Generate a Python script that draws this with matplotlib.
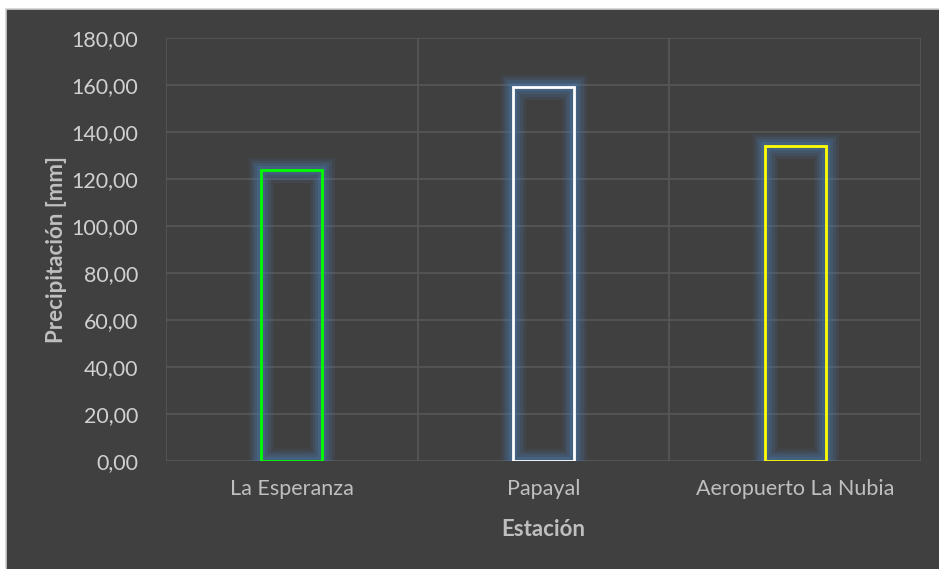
import matplotlib
matplotlib.use("Agg")
import matplotlib.pyplot as plt
from matplotlib.patches import Rectangle
from matplotlib.ticker import FuncFormatter

# Data
estaciones = ["La Esperanza", "Papayal", "Aeropuerto La Nubia"]
precipitacion = [123.8, 159.2, 134.0]
colores = ["#00ff00", "#ffffff", "#ffff00"]

plt.rcParams['font.family'] = ['Lato', 'DejaVu Sans']

fig = plt.figure(figsize=(9.39, 5.69), dpi=100, facecolor="white")
# dark chart area with thin light border
fondo = Rectangle((6 / 939, -0.01), 1.0, 1 - 9 / 569 + 0.01,
                  transform=fig.transFigure, facecolor="#404040",
                  edgecolor="#d0d0d0", linewidth=1.2, zorder=-10)
fig.add_artist(fondo)

ax = fig.add_axes([166 / 939, 1 - 461 / 569, (921 - 166) / 939, (461 - 38) / 569])
ax.set_facecolor("#404040")

x = range(len(estaciones))
ancho = 0.243

# glow
for lw, a in [(18, 0.10), (14, 0.14), (10, 0.18), (6, 0.25)]:
    ax.bar(x, precipitacion, width=ancho, fill=False, edgecolor="#4a80bd",
           linewidth=lw, alpha=a, zorder=2)
ax.bar(x, precipitacion, width=ancho, fill=False, edgecolor=colores,
       linewidth=2, zorder=3)

ax.set_xlim(-0.5, 2.5)
ax.set_ylim(0, 180)
ax.set_yticks(range(0, 181, 20))
ax.yaxis.set_major_formatter(FuncFormatter(lambda v, p: f"{v:.2f}".replace(".", ",")))
ax.set_xticks(list(x))
ax.set_xticklabels(estaciones)

for v in range(0, 181, 20):
    ax.axhline(v, color="#575757", linewidth=1.2, zorder=1)
for v in [-0.5, 0.5, 1.5, 2.5]:
    ax.axvline(v, color="#575757", linewidth=1.2, zorder=1)

for s in ax.spines.values():
    s.set_visible(False)
ax.tick_params(axis="both", length=0, labelsize=15.5)
ax.tick_params(axis="y", colors="#d0d0d0", pad=20)
ax.tick_params(axis="x", colors="#bfbfbf", pad=13)

ax.set_xlabel("Estación", fontsize=16, fontweight="bold", color="#bfbfbf", labelpad=14)
ax.set_ylabel("Precipitación [mm]", fontsize=16, fontweight="bold", color="#bfbfbf", labelpad=3)

fig.savefig("out.png", dpi=100, facecolor="white")
